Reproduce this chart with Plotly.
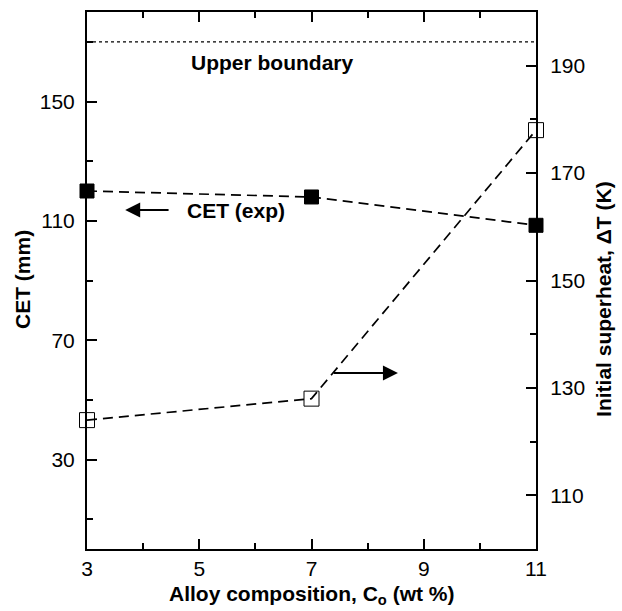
import plotly.graph_objects as go

# Data
composition = [3, 7, 11]
cet_exp = [120, 118, 108.5]          # CET (mm), left axis
superheat = [124, 128, 178]          # Initial superheat (K), right axis
upper_boundary = 170                 # CET (mm)
x_ticks = [3, 5, 7, 9, 11]
y_ticks = [30, 70, 110, 150]
y2_ticks = [110, 130, 150, 170, 190]

FONT = "Arial, Liberation Sans, Helvetica, sans-serif"
TFS = 21

fig = go.Figure()

fig.add_trace(go.Scatter(
    x=[composition[0], composition[-1]], y=[upper_boundary, upper_boundary],
    mode="lines", line=dict(color="black", width=1.2, dash="dot"),
    showlegend=False, hoverinfo="skip"))

fig.add_trace(go.Scatter(
    x=composition, y=cet_exp, mode="lines+markers",
    line=dict(color="black", width=1.7, dash="10px,6px"),
    marker=dict(symbol="square", size=14, color="black",
                line=dict(color="black", width=1)),
    showlegend=False, cliponaxis=False))

fig.add_trace(go.Scatter(
    x=composition, y=superheat, mode="lines+markers", yaxis="y2",
    line=dict(color="black", width=1.7, dash="10px,6px"),
    marker=dict(symbol="square-open", size=15, color="black",
                line=dict(color="black", width=1)),
    showlegend=False, cliponaxis=False))

axis_common = dict(showgrid=False, zeroline=False, linecolor="black",
                   linewidth=2, ticks="inside", tickcolor="black",
                   tickwidth=2, showline=True,
                   tickfont=dict(family=FONT, size=21, color="black"))

fig.update_layout(
    width=622, height=611,
    margin=dict(l=87, r=86, t=10, b=62),
    paper_bgcolor="white", plot_bgcolor="white",
    font=dict(family=FONT, color="black"),
    xaxis=dict(**axis_common, range=[3, 11], tickvals=x_ticks,
               ticklen=10, mirror="ticks",
               minor=dict(ticks="inside", dtick=1, tick0=3, ticklen=6,
                          tickcolor="black", tickwidth=1.5)),
    yaxis=dict(**axis_common, range=[0, 180], tickvals=y_ticks,
               ticklen=10, ticklabelstandoff=6,
               minor=dict(ticks="inside", dtick=20, tick0=10, ticklen=6,
                          tickcolor="black", tickwidth=1.5)),
    yaxis2=dict(**axis_common, range=[100, 200], tickvals=y2_ticks,
                overlaying="y", side="right", ticklen=10,
                ticklabelstandoff=8,
                minor=dict(ticks="inside", dtick=10, tick0=100, ticklen=6,
                           tickcolor="black", tickwidth=1.5)),
    annotations=[
        dict(x=6.30, y=163, xref="x", yref="y", text="<b>Upper boundary</b>",
             showarrow=False, font=dict(family=FONT, size=TFS, color="black")),
        dict(x=5.65, y=113.6, xref="x", yref="y", text="<b>CET (exp)</b>",
             showarrow=False, font=dict(family=FONT, size=TFS, color="black")),
        dict(x=3.68, y=113.6, ax=4.48, ay=113.6, xref="x", yref="y",
             axref="x", ayref="y", text="", showarrow=True, arrowhead=2,
             arrowsize=1.5, arrowwidth=2, arrowcolor="black"),
        dict(x=8.54, y=59, ax=7.37, ay=59, xref="x", yref="y",
             axref="x", ayref="y", text="", showarrow=True, arrowhead=2,
             arrowsize=1.5, arrowwidth=2, arrowcolor="black"),
    ],
)

# axis titles placed in pixel terms via paper coordinates
W, H = 622, 611
L, R, T, B = 87, 86, 10, 62
pw, ph = W - L - R, H - T - B


def px_to_paper(xp, yp):
    return (xp - L) / pw, (H - B - yp) / ph


titles = [
    ("<b>Alloy composition, C<sub>o</sub> (wt %)</b>", 311, 595, 0),
    ("<b>CET (mm)</b>", 22, 279, -90),
    ("<b>Initial superheat, \u0394T (K)</b>", 604, 298, -90),
]
for text, xp, yp, ang in titles:
    px, py = px_to_paper(xp, yp)
    fig.add_annotation(x=px, y=py, xref="paper", yref="paper", text=text,
                       textangle=ang, showarrow=False,
                       xanchor="center", yanchor="middle",
                       font=dict(family=FONT, size=TFS, color="black"))

fig.write_html("out.html")
